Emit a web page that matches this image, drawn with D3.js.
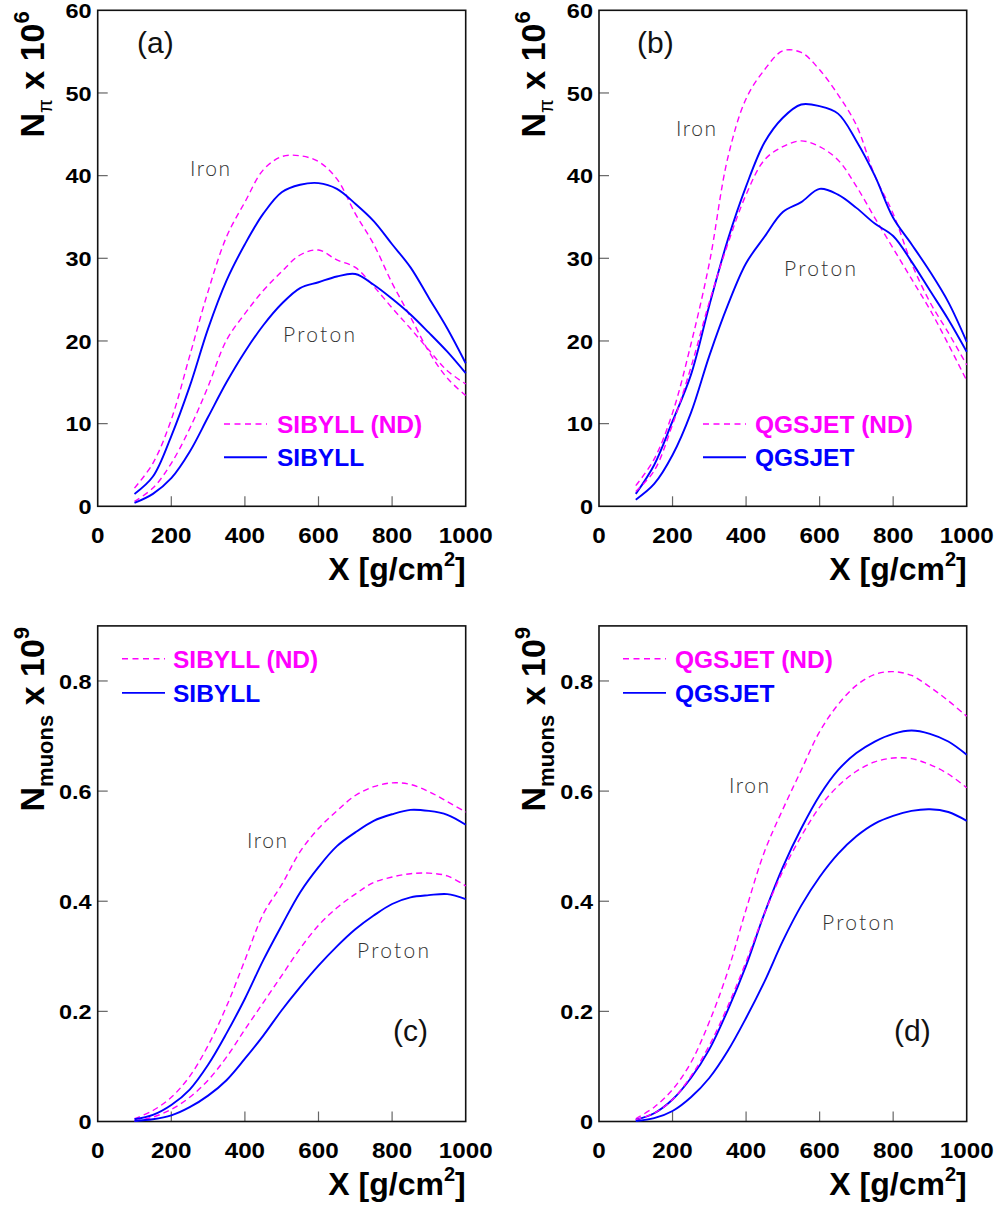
<!DOCTYPE html>
<html><head><meta charset="utf-8">
<script src="https://cdn.jsdelivr.net/npm/d3@7"></script>
<style>body{margin:0;background:#fff}svg{display:block}</style>
</head><body>
<svg id="c" width="1000" height="1207"></svg>
<script>
const depth = [100,150,200,250,300,350,400,450,500,550,600,650,700,750,800,850,900,950,1000];

// Panel (a): N_pi x 1e6, SIBYLL
const a_ironND   = [2.2,5.2,10.5,18.2,26,32.6,36.8,40.7,42.3,42.4,41.7,39.6,35.4,31.7,27,22.9,18.7,15.5,13.4];
const a_iron     = [1.5,3.6,8.5,14.5,21.5,27.3,31.7,35.4,38,38.9,39.1,38.4,36.6,34.5,31.7,28.9,25.2,21.5,17.3];
const a_protonND = [0.6,2.2,5.2,9.4,14.5,20.1,23.3,26.1,28.4,30.4,31,29.8,28.9,26.6,24,21.5,18.9,16.4,14.8];
const a_proton   = [0.4,1.5,3.4,6.6,10.8,15,18.7,21.9,24.5,26.4,27.1,27.8,28.1,26.8,25.1,23.2,21,18.7,16.1];

// Panel (b): N_pi x 1e6, QGSJET
const b_ironND   = [2.5,5.7,11.3,19.6,29.4,42.1,49.3,52.8,55.1,54.9,52.8,49.8,46.1,40,35.4,29.4,24.7,21,17.1];
const b_iron     = [1.5,5,10.3,15.9,24.3,32.2,38.7,44,47,48.6,48.4,47.5,44.2,40,34.9,31.7,28.4,24.7,19.9];
const b_protonND = [1.8,4.3,9.9,16.8,24.7,31.7,37.7,41.9,43.5,44.2,43.5,41.9,38.7,34.9,31.2,27.5,23.8,19.6,15.2];
const b_proton   = [0.8,2.7,6.2,11.3,18.2,24.3,29.4,32.6,35.6,36.8,38.4,37.7,36.1,34.2,32.7,29.6,26.1,22.6,18.7];

// Panel (c): N_muons x 1e9, SIBYLL
const c_ironND   = [0.005,0.02,0.044,0.082,0.138,0.209,0.293,0.377,0.43,0.49,0.532,0.564,0.592,0.608,0.615,0.612,0.599,0.581,0.562];
const c_iron     = [0.004,0.012,0.03,0.058,0.103,0.16,0.223,0.293,0.356,0.416,0.462,0.5,0.525,0.546,0.558,0.566,0.564,0.557,0.539];
const c_protonND = [0.001,0.008,0.022,0.044,0.075,0.117,0.167,0.216,0.265,0.314,0.356,0.388,0.413,0.434,0.444,0.45,0.451,0.446,0.428];
const c_proton   = [0.001,0.004,0.011,0.026,0.047,0.075,0.114,0.156,0.202,0.244,0.283,0.318,0.349,0.374,0.395,0.407,0.411,0.413,0.404];

// Panel (d): N_muons x 1e9, QGSJET
const d_ironND   = [0.005,0.026,0.058,0.107,0.181,0.272,0.385,0.49,0.567,0.638,0.708,0.757,0.792,0.812,0.817,0.81,0.789,0.764,0.736];
const d_iron     = [0.003,0.015,0.04,0.079,0.131,0.202,0.283,0.378,0.462,0.532,0.592,0.638,0.669,0.69,0.704,0.71,0.704,0.69,0.666];
const d_protonND = [0.003,0.015,0.04,0.082,0.138,0.209,0.29,0.378,0.455,0.518,0.571,0.609,0.636,0.653,0.66,0.659,0.648,0.631,0.606];
const d_proton   = [0.001,0.006,0.019,0.044,0.079,0.128,0.188,0.254,0.328,0.392,0.444,0.486,0.518,0.541,0.555,0.564,0.567,0.562,0.546];

const xTicks = [0,200,400,600,800,1000];
const yTicksPi = [0,10,20,30,40,50,60];
const yTicksMu = [0,0.2,0.4,0.6,0.8];

const svg = d3.select('#c');
const MAG = '#ff00ff', BLUE = '#0000ff';

const panels = [
  {x0:97.7,x1:465.7,y0:10.3,y1:506.3,ymax:60,yticks:yTicksPi,fmt:d=>d,label:'(a)',lx:137,ly:42,
   series:[a_ironND,a_iron,a_protonND,a_proton],model:'SIBYLL',legX:224,legY:[424,457.3],legTx:277,
   iron:[190,168.4],proton:[283,334.9],ytitle:'pi'},
  {x0:599,x1:966.7,y0:10.3,y1:506.3,ymax:60,yticks:yTicksPi,fmt:d=>d,label:'(b)',lx:637,ly:42,
   series:[b_ironND,b_iron,b_protonND,b_proton],model:'QGSJET',legX:703,legY:[424,457.3],legTx:755,
   iron:[676,128.2],proton:[784,268],ytitle:'pi'},
  {x0:97.7,x1:465.7,y0:625.9,y1:1121.5,ymax:0.9,yticks:yTicksMu,fmt:d=>d===0?'0':d3.format('.1f')(d),label:'(c)',lx:393,ly:1029.7,
   series:[c_ironND,c_iron,c_protonND,c_proton],model:'SIBYLL',legX:122,legY:[658.8,692.9],legTx:173,
   iron:[247,840],proton:[357,950.4],ytitle:'mu'},
  {x0:599,x1:966.7,y0:625.9,y1:1121.5,ymax:0.9,yticks:yTicksMu,fmt:d=>d===0?'0':d3.format('.1f')(d),label:'(d)',lx:894,ly:1029.7,
   series:[d_ironND,d_iron,d_protonND,d_proton],model:'QGSJET',legX:623,legY:[658.8,692.9],legTx:675,
   iron:[729,785],proton:[822,922],ytitle:'mu'}
];

const FONT = "'Liberation Sans', Arial, Helvetica, sans-serif";
const THIN = "Lato, 'Liberation Sans', sans-serif";

panels.forEach(p => {
  const x = d3.scaleLinear().domain([0,1000]).range([p.x0,p.x1]);
  const y = d3.scaleLinear().domain([0,p.ymax]).range([p.y1,p.y0]);
  const g = svg.append('g');

  // ticks (inside)
  xTicks.filter(t=>t>0&&t<1000).forEach(t=>{
    g.append('line').attr('x1',x(t)).attr('x2',x(t)).attr('y1',p.y1).attr('y2',p.y1-10)
      .attr('stroke','#666').attr('stroke-width',1.2);
  });
  p.yticks.filter(t=>t>0&&t<p.ymax&&t!==60).forEach(t=>{
    g.append('line').attr('x1',p.x0).attr('x2',p.x0+10).attr('y1',y(t)).attr('y2',y(t))
      .attr('stroke','#666').attr('stroke-width',1.2);
  });
  // frame
  g.append('rect').attr('x',p.x0).attr('y',p.y0).attr('width',p.x1-p.x0).attr('height',p.y1-p.y0)
    .attr('fill','none').attr('stroke','#111').attr('stroke-width',1.6);

  // tick labels
  xTicks.forEach(t=>{
    g.append('text').attr('transform',`translate(${x(t)},${p.y1+36.5}) scale(1.1,1)`).attr('text-anchor','middle')
      .attr('font-family',FONT).attr('font-weight','bold').attr('font-size',22).text(t);
  });
  p.yticks.forEach(t=>{
    g.append('text').attr('transform',`translate(${p.x0-6},${y(t)}) scale(1.12,1)`).attr('dy','0.36em').attr('text-anchor','end')
      .attr('font-family',FONT).attr('font-weight','bold').attr('font-size',21).text(p.fmt(t));
  });

  // x title
  const xt = g.append('text').attr('x',p.x1).attr('y',p.y1+73.5).attr('text-anchor','end')
    .attr('font-family',FONT).attr('font-weight','bold').attr('font-size',32);
  xt.append('tspan').text('X [g/cm');
  xt.append('tspan').attr('font-size',20).attr('dy',-14).text('2');
  xt.append('tspan').attr('dy',14).text(']');

  // y title
  const ytg = g.append('text').attr('transform',`translate(${p.x0-54},${p.y0+1}) rotate(-90)`)
    .attr('text-anchor','end').attr('font-family',FONT).attr('font-weight','bold').attr('font-size',34);
  ytg.append('tspan').text('N');
  if (p.ytitle==='pi') {
    ytg.append('tspan').attr('font-size',20).attr('font-weight','normal').attr('dy',8).text('π');
    ytg.append('tspan').attr('dy',-8).text(' x 10');
    ytg.append('tspan').attr('font-size',22).attr('dy',-15).text('6');
  } else {
    ytg.append('tspan').attr('font-size',22).attr('dy',9).text('muons');
    ytg.append('tspan').attr('dy',-9).text(' x 10');
    ytg.append('tspan').attr('font-size',22).attr('dy',-15).text('9');
  }

  // curves
  const line = d3.line().x((d,i)=>x(depth[i])).y(d=>y(d)).curve(d3.curveCatmullRom.alpha(0.5));
  p.series.forEach((s,k)=>{
    const nd = (k%2===0);
    g.append('path').datum(s).attr('d',line).attr('fill','none')
      .attr('stroke',nd?MAG:BLUE).attr('stroke-width',nd?1.4:1.9)
      .attr('stroke-dasharray',nd?'6,4':null);
  });

  // legend
  g.append('line').attr('x1',p.legX).attr('x2',p.legX+43).attr('y1',p.legY[0]).attr('y2',p.legY[0])
    .attr('stroke',MAG).attr('stroke-width',1.6).attr('stroke-dasharray','6,4.5');
  g.append('line').attr('x1',p.legX).attr('x2',p.legX+43).attr('y1',p.legY[1]).attr('y2',p.legY[1])
    .attr('stroke',BLUE).attr('stroke-width',1.9);
  g.append('text').attr('x',p.legTx).attr('y',p.legY[0]).attr('dy','0.36em')
    .attr('font-family',FONT).attr('font-weight','bold').attr('font-size',24.5).attr('fill',MAG).text(p.model+' (ND)');
  g.append('text').attr('x',p.legTx).attr('y',p.legY[1]).attr('dy','0.36em')
    .attr('font-family',FONT).attr('font-weight','bold').attr('font-size',24.5).attr('fill',BLUE).text(p.model);

  // annotations
  g.append('text').attr('x',p.lx).attr('y',p.ly).attr('dy','0.36em')
    .attr('font-family',FONT).attr('font-size',30).attr('fill','#111').text(p.label);
  g.append('text').attr('x',p.iron[0]).attr('y',p.iron[1]).attr('dy','0.36em')
    .attr('font-family',THIN).attr('font-weight',300).attr('font-size',21)
    .attr('textLength',40).attr('lengthAdjust','spacing').attr('fill','#333').text('Iron');
  g.append('text').attr('x',p.proton[0]).attr('y',p.proton[1]).attr('dy','0.36em')
    .attr('font-family',THIN).attr('font-weight',300).attr('font-size',21)
    .attr('textLength',72).attr('lengthAdjust','spacing').attr('fill','#333').text('Proton');
});
</script>
</body></html>
